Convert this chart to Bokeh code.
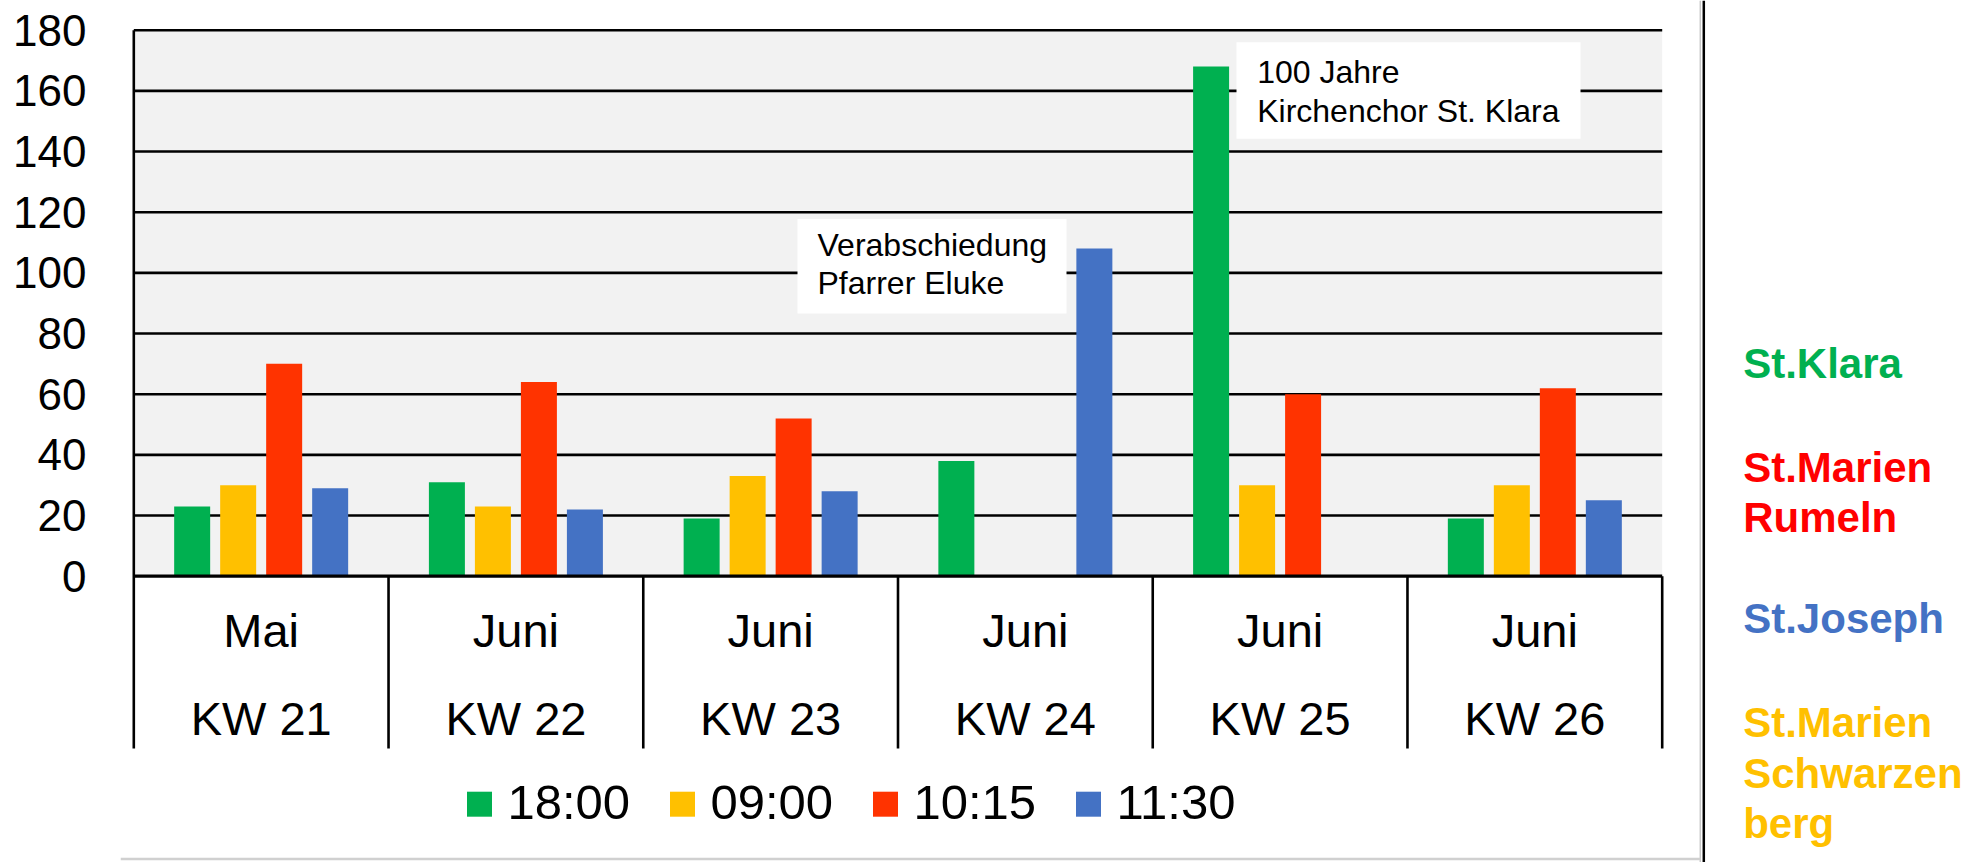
from bokeh.plotting import figure
from bokeh.models import Range1d, FixedTicker
from bokeh.core.properties import value
from bokeh.embed import file_html
from bokeh.resources import INLINE

# ---------------- data ----------------
months = ["Mai", "Juni", "Juni", "Juni", "Juni", "Juni"]
weeks = ["KW 21", "KW 22", "KW 23", "KW 24", "KW 25", "KW 26"]
series_names = ["18:00", "09:00", "10:15", "11:30"]
s1800 = [23, 31, 19, 38, 168, 19]
s0900 = [30, 23, 33, 0, 30, 30]
s1015 = [70, 64, 52, 0, 60, 62]
s1130 = [29, 22, 28, 108, 0, 25]
series_colors = ["#00B050", "#FFC000", "#FF3300", "#4472C4"]
y_ticks = [0, 20, 40, 60, 80, 100, 120, 140, 160, 180]
note1 = ["Verabschiedung", "Pfarrer Eluke"]
note2 = ["100 Jahre", "Kirchenchor St. Klara"]
side_labels = ["St.Klara", "St.Marien", "Rumeln", "St.Joseph", "St.Marien", "Schwarzen", "berg"]
side_colors = ["#00B050", "#FF0000", "#FF0000", "#4472C4", "#FFC000", "#FFC000", "#FFC000"]

# ---------------- layout (pixels) ----------------
W, H = 1981, 862
BORDER_L = 120
PLOT_L, PLOT_R = 133.3, 1661.7
ZERO_PX, TOP_PX = 575.7, 29.7
N = len(weeks)
ux = (PLOT_R - PLOT_L) / N                 # px per category
uy = (ZERO_PX - TOP_PX) / 180.0            # px per value unit


def dx(px):
    return (px - PLOT_L) / ux


def dy(py):
    return (ZERO_PX - py) / uy


def mid(baseline_px, fs):
    # vertical centre of capitals for a given baseline (screen px)
    return dy(baseline_px - 0.358 * fs)


x0, x1 = dx(BORDER_L), dx(W)
y0, y1 = dy(H), dy(0)

p = figure(width=W, height=H, output_backend="svg", toolbar_location=None,
           x_range=Range1d(x0, x1), y_range=Range1d(y0, y1),
           x_axis_location=None, min_border_left=BORDER_L, min_border_right=0,
           min_border_top=0, min_border_bottom=0)
p.outline_line_color = None
p.background_fill_color = "white"
p.border_fill_color = "white"
p.xgrid.visible = False
p.ygrid.visible = False

ax = p.yaxis[0]
ax.ticker = FixedTicker(ticks=y_ticks)
ax.axis_line_color = None
ax.major_tick_line_color = None
ax.minor_tick_line_color = None
ax.major_tick_out = 0
ax.major_tick_in = 0
ax.major_label_standoff = 34
ax.major_label_text_font = "Liberation Sans"
ax.major_label_text_font_size = "44px"
ax.major_label_text_color = "black"

FONT = value("Liberation Sans")

# plot area background
p.quad(left=[0], right=[N], bottom=[0], top=[y_ticks[-1]], fill_color="#F2F2F2", line_color=None)

# horizontal gridlines
p.segment(x0=[0] * (len(y_ticks) - 1), x1=[N] * (len(y_ticks) - 1), y0=y_ticks[1:], y1=y_ticks[1:],
          line_color="black", line_width=2.6)

# bars
bar_w = 36 / ux
pitch = 46 / ux
all_series = [s1800, s0900, s1015, s1130]
for k, (vals, col) in enumerate(zip(all_series, series_colors)):
    off = (k - 1.5) * pitch
    xs = [i + 0.5 + off for i, v in enumerate(vals) if v > 0]
    ts = [v for v in vals if v > 0]
    p.vbar(x=xs, top=ts, width=bar_w, bottom=0, fill_color=col, line_color=None)

# category table lines
box_bottom = dy(748)
p.segment(x0=[0], x1=[N], y0=[0], y1=[0], line_color="black", line_width=3.2)
p.segment(x0=[0], x1=[0], y0=[box_bottom], y1=[y_ticks[-1]], line_color="black", line_width=2.6)
p.segment(x0=list(range(1, N + 1)), x1=list(range(1, N + 1)), y0=[box_bottom] * N, y1=[0] * N,
          line_color="black", line_width=2.6)

# category labels
CAT_FS = 47
cx = [i + 0.5 for i in range(N)]
p.text(x=cx, y=[mid(647, CAT_FS)] * N, text=months, text_font=FONT, text_font_size=f"{CAT_FS}px",
       text_align="center", text_baseline="middle", text_color="black")
p.text(x=cx, y=[mid(735, CAT_FS)] * N, text=weeks, text_font=FONT, text_font_size=f"{CAT_FS}px",
       text_align="center", text_baseline="middle", text_color="black")

# annotation boxes
NOTE_FS = 32
p.quad(left=[dx(797), dx(1236)], right=[dx(1066), dx(1580)],
       bottom=[dy(313), dy(138.3)], top=[dy(218.6), dy(41.7)],
       fill_color="white", line_color=None)
p.text(x=[dx(817)] * 2, y=[mid(256, NOTE_FS), mid(294.3, NOTE_FS)], text=note1, text_font=FONT,
       text_font_size=f"{NOTE_FS}px", text_align="left", text_baseline="middle", text_color="black")
p.text(x=[dx(1256.7)] * 2, y=[mid(83.3, NOTE_FS), mid(121.7, NOTE_FS)], text=note2, text_font=FONT,
       text_font_size=f"{NOTE_FS}px", text_align="left", text_baseline="middle", text_color="black")

# legend (manual)
LEG_FS = 49
leg_pitch = 203 / ux
sq_x = [dx(479) + k * leg_pitch for k in range(4)]
p.scatter(x=sq_x, y=[dy(803.7)] * 4, marker="square", size=25, fill_color=series_colors, line_color=None)
p.text(x=[dx(507) + k * leg_pitch for k in range(4)], y=[mid(819, LEG_FS)] * 4, text=series_names,
       text_font=FONT, text_font_size=f"{LEG_FS}px", text_align="left", text_baseline="middle",
       text_color="black")

# separator lines (screenshot frame)
sep_x = dx(1703.3)
p.segment(x0=[dx(1699.8)], x1=[dx(1699.8)], y0=[y0], y1=[y1], line_color="#C8C8C8", line_width=1.5)
p.segment(x0=[sep_x], x1=[sep_x], y0=[y0], y1=[y1], line_color="black", line_width=2.5)
p.segment(x0=[x0], x1=[dx(1700)], y0=[dy(858.5)], y1=[dy(858.5)], line_color="#D0D0D0", line_width=2.5)

# side labels
SIDE_FS = 42
side_base = [378.3, 481.7, 532.3, 633.3, 737, 787.6, 838.2]
p.text(x=[dx(1742.7)] * len(side_labels), y=[mid(b, SIDE_FS) for b in side_base], text=side_labels,
       text_color=side_colors, text_font=FONT, text_font_size=f"{SIDE_FS}px", text_font_style="bold",
       text_align="left", text_baseline="middle")

open("out.html", "w").write(file_html(p, INLINE))
